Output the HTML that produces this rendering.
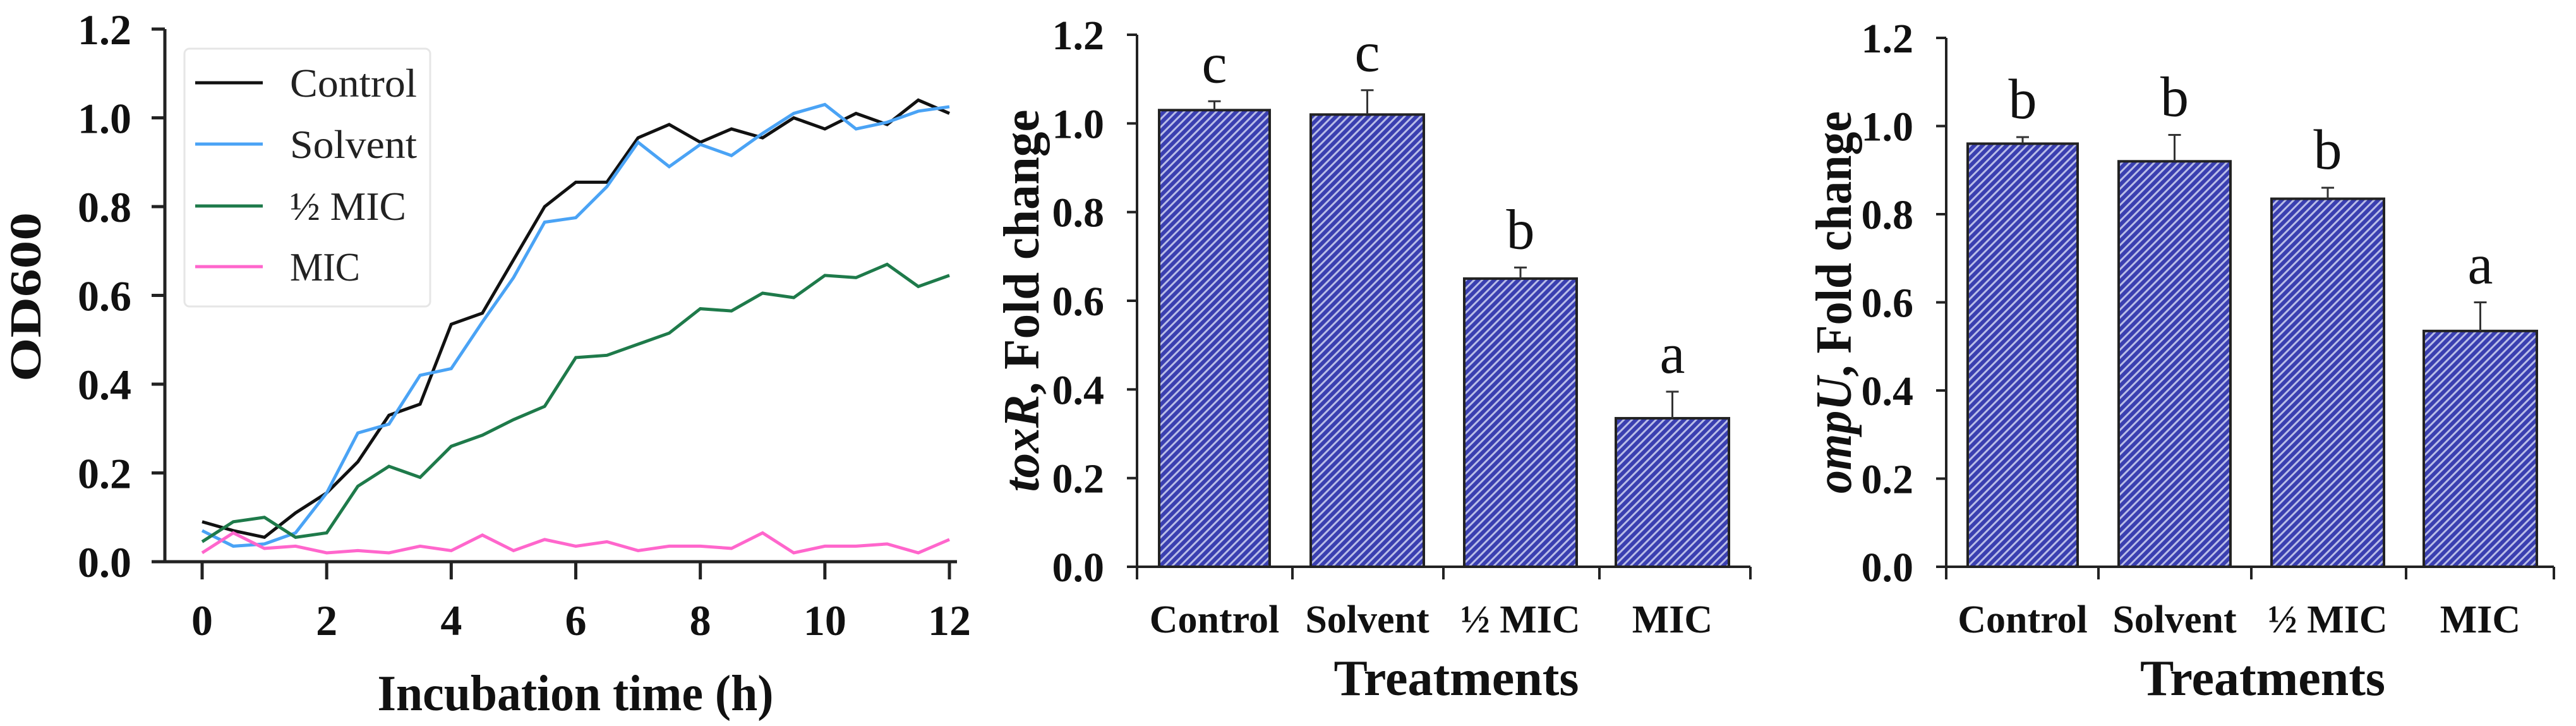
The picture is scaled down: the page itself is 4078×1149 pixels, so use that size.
<!DOCTYPE html>
<html><head><meta charset="utf-8"><style>
html,body{margin:0;padding:0;background:#fff;}
svg{display:block;}
text{font-family:"Liberation Serif","DejaVu Serif",serif;}
</style></head><body>
<svg id="fig" width="4078" height="1149" viewBox="0 0 4078 1149">
<defs>
<pattern id="hatch" patternUnits="userSpaceOnUse" width="9" height="9" patternTransform="rotate(45)">
<rect width="9" height="9" fill="#3a3fb0"/>
<rect x="0" y="0" width="3" height="9" fill="#b9bde8"/>
</pattern>
</defs>
<g id="c1"></g>
<g id="c2"></g>
<g id="c3"></g>
</svg>
<script>
const times = [0,0.5,1,1.5,2,2.5,3,3.5,4,4.5,5,5.5,6,6.5,7,7.5,8,8.5,9,9.5,10,10.5,11,11.5,12];
const controlOD = [0.09,0.07,0.055,0.11,0.155,0.225,0.33,0.355,0.535,0.56,0.68,0.8,0.855,0.855,0.955,0.985,0.945,0.975,0.955,1.0,0.975,1.01,0.985,1.04,1.01];
const solventOD = [0.07,0.035,0.04,0.065,0.155,0.29,0.31,0.42,0.435,0.54,0.64,0.765,0.775,0.845,0.945,0.89,0.94,0.915,0.965,1.01,1.03,0.975,0.99,1.015,1.025];
const halfMicOD = [0.045,0.09,0.1,0.055,0.065,0.17,0.215,0.19,0.26,0.285,0.32,0.35,0.46,0.465,0.49,0.515,0.57,0.565,0.605,0.595,0.645,0.64,0.67,0.62,0.645];
const micOD = [0.02,0.065,0.03,0.035,0.02,0.025,0.02,0.035,0.025,0.06,0.025,0.05,0.035,0.045,0.025,0.035,0.035,0.03,0.065,0.02,0.035,0.035,0.04,0.02,0.05];
const seriesNames = ["Control","Solvent","½ MIC","MIC"];
const xTicks1 = [0,2,4,6,8,10,12];
const yTicks = [0,0.2,0.4,0.6,0.8,1.0,1.2];
const categories = ["Control","Solvent","½ MIC","MIC"];
const toxRValues = [1.03,1.02,0.65,0.335];
const toxRErr = [0.02,0.055,0.025,0.06];
const toxRLetters = ["c","c","b","a"];
const ompUValues = [0.96,0.92,0.835,0.535];
const ompUErr = [0.015,0.06,0.025,0.065];
const ompULetters = ["b","b","b","a"];

const NS="http://www.w3.org/2000/svg";
function mk(parent,tag,attrs,txt){const e=document.createElementNS(NS,tag);for(const k in attrs)e.setAttribute(k,attrs[k]);if(txt!==undefined)e.textContent=txt;parent.appendChild(e);return e;}

// ---------- Chart 1 ----------
(function(){
const g=document.getElementById('c1');
const X0=320,X1=1503,Y0=889,Y1=46;
const sx=v=>X0+(v-0)/(12-0)*(X1-X0);
const sy=v=>Y0-(v/1.2)*(Y0-Y1);
const ax='#222';
let a=mk(g,'line',{x1:261,y1:Y1,x2:261,y2:Y0,stroke:ax,'stroke-width':5});

a=mk(g,'line',{x1:261,y1:Y0,x2:1515,y2:Y0,stroke:ax,'stroke-width':5});

yTicks.forEach(v=>{
 mk(g,'line',{x1:240,y1:sy(v),x2:261,y2:sy(v),stroke:ax,'stroke-width':5});
 const t=mk(g,'text',{x:208,y:sy(v)+24,'text-anchor':'end','font-size':68,'font-weight':'bold',fill:'#111'},v.toFixed(1));
 
});
xTicks1.forEach(v=>{
 mk(g,'line',{x1:sx(v),y1:Y0,x2:sx(v),y2:Y0+28,stroke:ax,'stroke-width':5});
 const t=mk(g,'text',{x:sx(v),y:1005,'text-anchor':'middle','font-size':68,'font-weight':'bold',fill:'#111'},String(v));
 
});
let t=mk(g,'text',{x:0,y:0,transform:'translate(64,470) rotate(-90)','text-anchor':'middle','font-size':70,'font-weight':'bold',textLength:268,lengthAdjust:'spacingAndGlyphs',fill:'#111'},'OD600');

t=mk(g,'text',{x:911,y:1124,'text-anchor':'middle','font-size':80,'font-weight':'bold',textLength:627,lengthAdjust:'spacingAndGlyphs',fill:'#111'},'Incubation time (h)');

const all=[controlOD,solventOD,halfMicOD,micOD];
const cols=['#111111','#4aa3f5','#1e7a4a','#ff66cc'];
const names=['line-control','line-solvent','line-half-mic','line-mic'];
all.forEach((s,i)=>{
 const p=mk(g,'polyline',{points:s.map((v,j)=>sx(times[j])+','+sy(v)).join(' '),fill:'none',stroke:cols[i],'stroke-width':5,'stroke-linejoin':'miter'});
 
});
const lg=mk(g,'g',{});

mk(lg,'rect',{x:292,y:77,width:389,height:408,rx:8,fill:'#fff',stroke:'#e6e6e6','stroke-width':3});
const ly=[131,228,326,422];
seriesNames.forEach((n,i)=>{
 const e=mk(lg,'g',{});
 
 mk(e,'line',{x1:309,y1:ly[i],x2:416,y2:ly[i],stroke:cols[i],'stroke-width':5});
 mk(e,'text',{x:459,y:ly[i]+22,'font-size':64,fill:'#222',textLength:[201,201,184,111][i],lengthAdjust:'spacingAndGlyphs'},n);
});
})();

// ---------- Bar charts ----------
function barChart(gid,cfg,vals,errs,letters,label){
 const g=document.getElementById(gid);
 const {AX,Y0,Y1,XEND,bars,ticks}=cfg;
 const sy=v=>Y0-(v/1.2)*(Y0-Y1);
 let a=mk(g,'line',{x1:AX,y1:Y1,x2:AX,y2:Y0,stroke:'#222','stroke-width':4});
 
 a=mk(g,'line',{x1:AX,y1:Y0,x2:XEND,y2:Y0,stroke:'#222','stroke-width':4});
 
 yTicks.forEach(v=>{
  mk(g,'line',{x1:AX-16,y1:sy(v),x2:AX,y2:sy(v),stroke:'#222','stroke-width':4});
  const t=mk(g,'text',{x:AX-52,y:sy(v)+23,'text-anchor':'end','font-size':66,'font-weight':'bold',fill:'#111'},v.toFixed(1));
  
 });
 [AX].concat(ticks).concat([XEND]).forEach(x=>mk(g,'line',{x1:x,y1:Y0,x2:x,y2:Y0+20,stroke:'#222','stroke-width':4}));
 categories.forEach((c,i)=>{
  const [bx0,bx1]=bars[i];const cx=(bx0+bx1)/2;
  const r=mk(g,'rect',{x:bx0,y:sy(vals[i]),width:bx1-bx0,height:Y0-sy(vals[i]),fill:'url(#hatch)',stroke:'#222','stroke-width':4});
  
  const ye=sy(vals[i]+errs[i]);
  const e=mk(g,'path',{d:`M${cx},${sy(vals[i])} V${ye} M${cx-10},${ye} H${cx+10}`,stroke:'#333','stroke-width':3,fill:'none'});
  
  const l=mk(g,'text',{x:cx,y:ye-30,'text-anchor':'middle','font-size':90,fill:'#111'},letters[i]);
  
  const t=mk(g,'text',{x:cx,y:1001,'text-anchor':'middle','font-size':62,'font-weight':'bold',fill:'#111'},c);
  
 });
 const mid=(AX+XEND)/2+20;
 let t=mk(g,'text',{x:mid,y:1100,'text-anchor':'middle','font-size':80,'font-weight':'bold',fill:'#111'},'Treatments');
 
 t=mk(g,'text',{x:0,y:0,transform:`translate(${cfg.LX},${(Y0+Y1)/2}) rotate(-90)`,'text-anchor':'middle','font-size':80,'font-weight':'bold',textLength:605,lengthAdjust:'spacingAndGlyphs',fill:'#111'});
 
 mk(t,'tspan',{'font-style':'italic'},label);
 mk(t,'tspan',{},', Fold change');
}
barChart('c2',{AX:1800,Y0:897,Y1:55,XEND:2771,LX:1644,bars:[[1835,2010],[2075,2254],[2318,2496],[2558,2737]],ticks:[2046,2285,2532]},toxRValues,toxRErr,toxRLetters,'toxR');
barChart('c3',{AX:3081,Y0:897,Y1:60,XEND:4043,LX:2930,bars:[[3115,3289],[3354,3531],[3596,3774],[3837,4016]],ticks:[3322,3564,3809]},ompUValues,ompUErr,ompULetters,'ompU');
</script>
</body></html>
